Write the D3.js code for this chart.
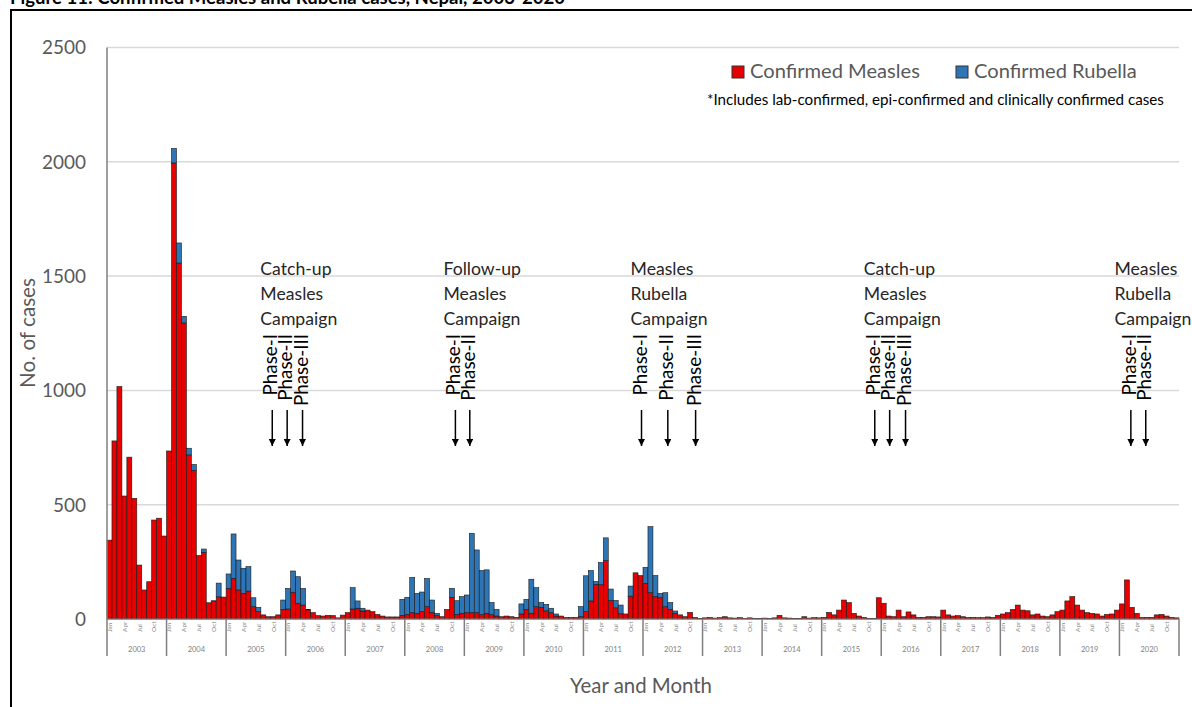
<!DOCTYPE html>
<html>
<head>
<meta charset="utf-8">
<script src="https://cdn.jsdelivr.net/npm/d3@7"></script>
<style>
  body { margin: 0; background: #fff; }
  svg { display: block; font-family: Lato, "Open Sans", sans-serif; }
</style>
</head>
<body>
<div id="chart"></div>
<script>
// Years on the x axis, month labels shown under every year
const years = d3.range(2003, 2021);
const monthTicks = [["Jan", 0], ["Apr", 3], ["Jul", 6], ["Oct", 9]];
const yTicks = [0, 500, 1000, 1500, 2000, 2500];

// Monthly confirmed measles cases, one line per year (2003 -> 2020)
const measles = [
  345, 779, 1017, 538, 708, 528, 236, 127, 163, 433, 441, 363,
  735, 1995, 1557, 1295, 718, 650, 278, 292, 71, 76, 97, 96,
  134, 178, 127, 112, 122, 54, 32, 18, 10, 10, 18, 42,
  44, 117, 69, 61, 40, 28, 15, 13, 16, 15, 5, 17,
  28, 44, 47, 35, 39, 32, 20, 13, 9, 9, 9, 16,
  20, 28, 25, 32, 54, 29, 15, 10, 42, 95, 20, 25,
  28, 28, 28, 19, 25, 19, 13, 10, 13, 10, 7, 22,
  42, 25, 54, 51, 36, 28, 13, 13, 7, 7, 7, 10,
  32, 79, 152, 150, 255, 81, 49, 23, 22, 100, 202, 190,
  156, 115, 98, 93, 54, 42, 25, 18, 10, 29, 7, 3,
  5, 7, 4, 6, 10, 5, 4, 6, 3, 5, 3, 3,
  4, 3, 5, 16, 5, 4, 3, 3, 10, 4, 6, 5,
  7, 29, 18, 39, 83, 72, 25, 13, 7, 3, 3, 93,
  69, 13, 10, 39, 10, 31, 18, 7, 7, 10, 10, 9,
  39, 18, 13, 15, 10, 7, 7, 6, 6, 9, 7, 16,
  22, 28, 42, 61, 39, 36, 18, 22, 13, 10, 18, 32,
  39, 79, 98, 61, 39, 28, 25, 22, 13, 20, 22, 39,
  66, 171, 51, 25, 7, 7, 7, 18, 20, 13, 7, 5
];

// Monthly confirmed rubella cases
const rubella = [
  0, 0, 0, 0, 0, 0, 0, 0, 0, 0, 0, 0,
  0, 63, 88, 29, 29, 26, 0, 14, 0, 4, 60, 0,
  63, 194, 131, 110, 107, 39, 19, 0, 0, 0, 0, 41,
  90, 93, 116, 73, 2, 0, 0, 0, 0, 0, 0, 0,
  0, 93, 32, 12, 0, 0, 0, 0, 0, 0, 0, 70,
  75, 154, 87, 86, 123, 54, 10, 0, 0, 39, 60, 73,
  77, 347, 274, 193, 190, 53, 29, 0, 0, 0, 0, 44,
  44, 149, 83, 21, 28, 19, 9, 0, 0, 0, 0, 44,
  157, 133, 12, 97, 100, 50, 32, 38, 0, 44, 0, 0,
  70, 289, 92, 19, 61, 30, 10, 0, 0, 0, 0, 0,
  0, 0, 0, 0, 0, 0, 0, 0, 0, 0, 0, 0,
  0, 0, 0, 0, 0, 0, 0, 0, 0, 0, 0, 0,
  0, 0, 0, 0, 0, 0, 0, 0, 0, 0, 0, 0,
  0, 0, 0, 0, 0, 0, 0, 0, 0, 0, 0, 0,
  0, 0, 0, 0, 0, 0, 0, 0, 0, 0, 0, 0,
  0, 0, 0, 0, 0, 0, 0, 0, 0, 0, 0, 0,
  0, 0, 0, 0, 0, 0, 0, 0, 0, 0, 0, 0,
  0, 0, 0, 0, 0, 0, 0, 0, 0, 0, 0, 0
];

// Vaccination campaigns: label lines, where the label starts and the phases (months since Jan 2003)
const campaignLabels = [
  ["Catch-up", "Measles", "Campaign"],
  ["Follow-up", "Measles", "Campaign"],
  ["Measles", "Rubella", "Campaign"],
  ["Catch-up", "Measles", "Campaign"],
  ["Measles", "Rubella", "Campaign"]
];
const campaignStart = [30.9, 67.8, 105.5, 152.5, 203.0];
const campaignPhases = [
  [["Phase-I", 33.3], ["Phase-II", 36.3], ["Phase-III", 39.4]],
  [["Phase-I", 70.2], ["Phase-II", 73.1]],
  [["Phase-I", 107.7], ["Phase-II", 113.0], ["Phase-III", 118.6]],
  [["Phase-I", 154.7], ["Phase-II", 157.7], ["Phase-III", 160.9]],
  [["Phase-I", 206.3], ["Phase-II", 209.3]]
];

const series = [
  { key: "measles", name: "Confirmed Measles", color: "#e60000" },
  { key: "rubella", name: "Confirmed Rubella", color: "#2e75b6" }
];
const noteText = "*Includes lab-confirmed, epi-confirmed and clinically confirmed cases";
const titleText = "Figure 11: Confirmed Measles and Rubella cases, Nepal, 2003-2020";

const W = 1192, H = 707;
const plotLeft = 107, plotRight = 1179, plotBottom = 619, plotTop = 47.5;

const rows = measles.map((m, i) => ({ i, measles: m, rubella: rubella[i] }));

const svg = d3.select("#chart").append("svg")
    .attr("width", W)
    .attr("height", H);

// font size so that a string takes a given width
function sizeFor(str, w, weight = "normal") {
  const t = svg.append("text").attr("font-size", 100).attr("font-weight", weight).text(str);
  const s = 100 * w / t.node().getComputedTextLength();
  t.remove();
  return s;
}
const fTick = sizeFor("2500", 44);
const fAxis = sizeFor("Year and Month", 142);
const fYTitle = sizeFor("No. of cases", 110);
const fLegend = sizeFor("Confirmed Measles", 170);
const fNote = sizeFor(noteText, 457);
const fAnn = sizeFor("Campaign", 77);
const fPhase = sizeFor("Phase-III", 72);
const fTitle = sizeFor(titleText, 555, "bold");

// frame
svg.append("path")
    .attr("d", `M11,${H} V10 H${W}`)
    .attr("fill", "none")
    .attr("stroke", "#000")
    .attr("stroke-width", 2);

// title, cut by the top edge as in the source figure
svg.append("text")
    .attr("x", 10).attr("y", 4)
    .attr("font-size", fTitle).attr("font-weight", "bold")
    .attr("fill", "#000")
    .text(titleText);

const x = d3.scaleBand()
    .domain(d3.range(rows.length))
    .range([plotLeft, plotRight])
    .padding(0);
const xm = d3.scaleLinear().domain([0, rows.length]).range([plotLeft, plotRight]);
const y = d3.scaleLinear().domain([0, 2500]).range([plotBottom, plotTop]);

// grid
svg.append("g")
  .selectAll("line")
  .data(yTicks)
  .join("line")
    .attr("x1", plotLeft).attr("x2", plotRight)
    .attr("y1", d => y(d)).attr("y2", d => y(d))
    .attr("stroke", "#d9d9d9")
    .attr("stroke-width", 1.5);

svg.append("g")
  .selectAll("text")
  .data(yTicks)
  .join("text")
    .attr("x", 86)
    .attr("y", d => y(d))
    .attr("dy", "0.36em")
    .attr("text-anchor", "end")
    .attr("font-size", fTick)
    .attr("fill", "#595959")
    .text(d => d);

// stacked bars
const stacked = d3.stack().keys(series.map(s => s.key))(rows);
svg.append("g")
  .selectAll("g")
  .data(stacked)
  .join("g")
    .attr("fill", (d, k) => series[k].color)
  .selectAll("rect")
  .data(d => d.filter(p => p[1] > p[0]))
  .join("rect")
    .attr("x", d => x(d.data.i))
    .attr("width", x.bandwidth())
    .attr("y", d => y(d[1]))
    .attr("height", d => y(d[0]) - y(d[1]))
    .attr("stroke", "#1a1a1a")
    .attr("stroke-width", 0.6);

// x axis: baseline, year separators, month and year labels
const xAxis = svg.append("g");
xAxis.append("line")
    .attr("x1", plotLeft).attr("x2", plotRight)
    .attr("y1", plotBottom).attr("y2", plotBottom)
    .attr("stroke", "#8c8c8c");
xAxis.append("line")
    .attr("x1", plotLeft).attr("x2", plotLeft)
    .attr("y1", plotTop).attr("y2", plotBottom)
    .attr("stroke", "#7f7f7f")
    .attr("stroke-width", 1.5);
xAxis.selectAll(".sep")
  .data(d3.range(years.length + 1))
  .join("line")
    .attr("class", "sep")
    .attr("x1", k => xm(k * 12)).attr("x2", k => xm(k * 12))
    .attr("y1", plotBottom).attr("y2", 656)
    .attr("stroke", "#7f7f7f")
    .attr("stroke-width", 1.5);

const yearG = xAxis.selectAll(".year")
  .data(years)
  .join("g")
    .attr("class", "year");
yearG.append("text")
    .attr("x", (d, k) => xm(k * 12 + 6))
    .attr("y", 652)
    .attr("text-anchor", "middle")
    .attr("font-size", 7.5)
    .attr("fill", "#7f7f7f")
    .text(d => d);
yearG.selectAll(".mon")
  .data((d, k) => monthTicks.map(([m, o]) => ({ m, i: k * 12 + o })))
  .join("text")
    .attr("class", "mon")
    .attr("transform", d => `translate(${x(d.i) + x.bandwidth() / 2},632) rotate(-90)`)
    .attr("dy", "0.35em")
    .attr("font-size", 6.5)
    .attr("fill", "#8c8c8c")
    .text(d => d.m);

// axis titles
svg.append("text")
    .attr("x", 641).attr("y", 693)
    .attr("text-anchor", "middle")
    .attr("font-size", fAxis)
    .attr("fill", "#595959")
    .text("Year and Month");
svg.append("text")
    .attr("transform", "translate(28,333) rotate(-90)")
    .attr("dy", "0.35em")
    .attr("text-anchor", "middle")
    .attr("font-size", fYTitle)
    .attr("fill", "#595959")
    .text("No. of cases");

// legend
const legendX = [732, 956];
const legend = svg.append("g")
  .selectAll("g")
  .data(series)
  .join("g")
    .attr("transform", (d, k) => `translate(${legendX[k]},66)`);
legend.append("rect")
    .attr("width", 12).attr("height", 12)
    .attr("fill", d => d.color)
    .attr("stroke", "#333")
    .attr("stroke-width", 1);
legend.append("text")
    .attr("x", 18).attr("y", 12)
    .attr("font-size", fLegend)
    .attr("fill", "#595959")
    .text(d => d.name);
svg.append("text")
    .attr("x", 707).attr("y", 105)
    .attr("font-size", fNote)
    .attr("fill", "#000")
    .text(noteText);

// campaign annotations
svg.append("defs").append("marker")
    .attr("id", "arrow")
    .attr("viewBox", "0 0 10 10")
    .attr("refX", 10).attr("refY", 5)
    .attr("markerWidth", 7).attr("markerHeight", 7)
    .attr("markerUnits", "userSpaceOnUse")
    .attr("orient", "auto")
  .append("path")
    .attr("d", "M0,0 L10,5 L0,10 Z")
    .attr("fill", "#000");

const camp = svg.append("g")
  .selectAll("g")
  .data(campaignLabels)
  .join("g");
camp.selectAll(".line")
  .data((d, k) => d.map((t, j) => ({ t, j, k })))
  .join("text")
    .attr("class", "line")
    .attr("x", d => xm(campaignStart[d.k]))
    .attr("y", d => 275 + d.j * 25)
    .attr("font-size", fAnn)
    .attr("fill", "#262626")
    .text(d => d.t);
const phase = camp.selectAll(".phase")
  .data((d, k) => campaignPhases[k])
  .join("g")
    .attr("class", "phase");
phase.append("text")
    .attr("transform", d => `translate(${xm(d[1]) - 1.5},334) rotate(-90)`)
    .attr("dy", "0.35em")
    .attr("text-anchor", "end")
    .attr("font-size", fPhase)
    .attr("fill", "#000")
    .text(d => d[0]);
phase.append("line")
    .attr("x1", d => xm(d[1])).attr("x2", d => xm(d[1]))
    .attr("y1", 410).attr("y2", 446)
    .attr("stroke", "#000")
    .attr("stroke-width", 1.5)
    .attr("marker-end", "url(#arrow)");
</script>
</body>
</html>
